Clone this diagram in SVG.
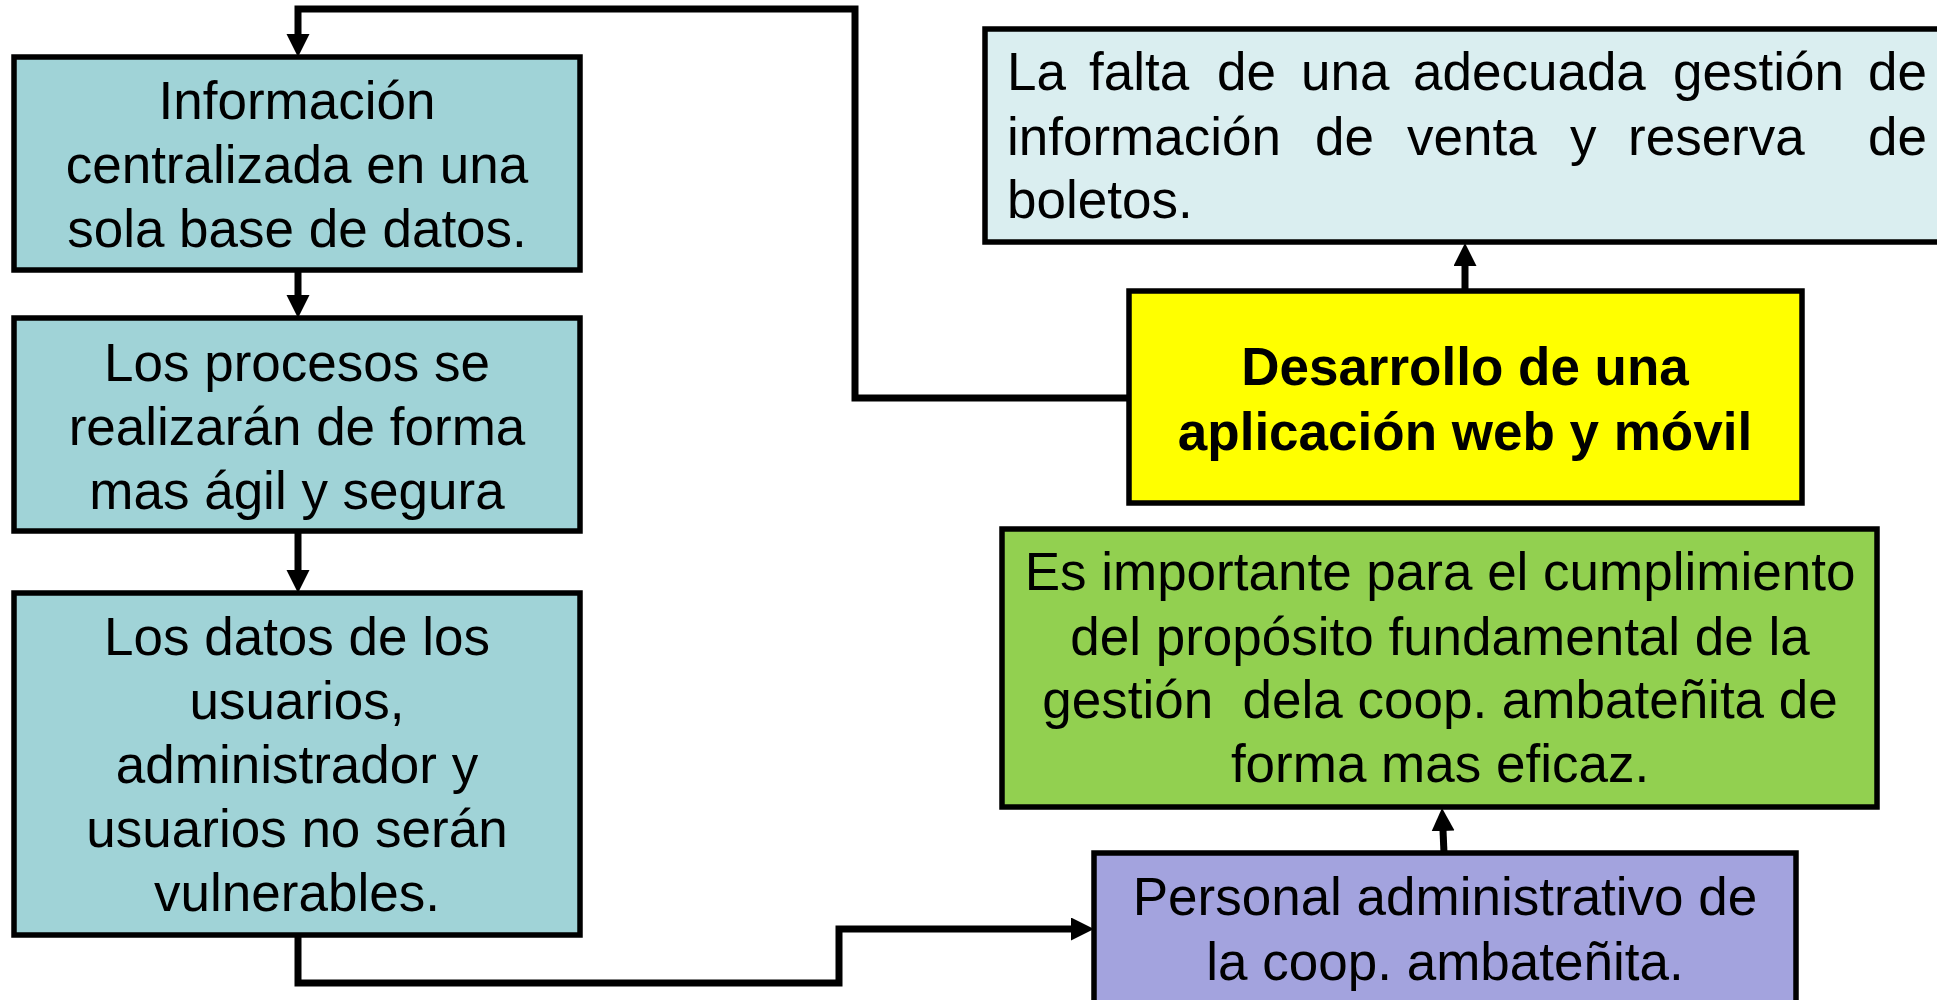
<svg xmlns="http://www.w3.org/2000/svg" width="1937" height="1000" viewBox="0 0 1937 1000">
<style>
.box{stroke:#000;stroke-width:5.5}
.teal{fill:#A0D3D7}
.lblue{fill:#DAEEF0}
.yellow{fill:#FFFF00}
.green{fill:#92D050}
.purple{fill:#A3A3DE}
text{font-family:"Liberation Sans",Arial,sans-serif;font-size:53px;fill:#000}
.c{text-anchor:middle}
.b{font-weight:bold}
.conn{fill:none;stroke:#000;stroke-width:7;stroke-linejoin:miter}
</style>
<defs>
<marker id="ah" markerUnits="userSpaceOnUse" markerWidth="24" markerHeight="24" refX="12" refY="11.5" orient="auto" viewBox="0 0 24 24">
<path d="M0,0 L23,11.5 L0,23 z" fill="#000"/>
</marker>
</defs>
<g id="connectors">
<path class="conn" d="M298,271 L298,307" marker-end="url(#ah)"/>
<path class="conn" d="M298,532 L298,582" marker-end="url(#ah)"/>
<path class="conn" d="M298,935 L298,983 L839,983 L839,929 L1083,929" marker-end="url(#ah)"/>
<path class="conn" d="M1128,398 L855,398 L855,9 L298,9 L298,46" marker-end="url(#ah)"/>
<path class="conn" d="M1465,290 L1465,254" marker-end="url(#ah)"/>
<path class="conn" d="M1444,853 L1442.5,819" marker-end="url(#ah)"/>
</g>
<g id="node-info">
<rect class="box teal" x="14" y="57" width="566" height="213"/>
<text class="c" x="297" y="119">Información</text>
<text class="c" x="297" y="183">centralizada en una</text>
<text class="c" x="297" y="247">sola base de datos.</text>
</g>
<g id="node-procesos">
<rect class="box teal" x="14" y="318" width="566" height="213"/>
<text class="c" x="297" y="381">Los procesos se</text>
<text class="c" x="297" y="445">realizarán de forma</text>
<text class="c" x="297" y="509">mas ágil y segura</text>
</g>
<g id="node-datos">
<rect class="box teal" x="14" y="593" width="566" height="342"/>
<text class="c" x="297" y="655">Los datos de los</text>
<text class="c" x="297" y="719">usuarios,</text>
<text class="c" x="297" y="783">administrador y</text>
<text class="c" x="297" y="847">usuarios no serán</text>
<text class="c" x="297" y="911">vulnerables.</text>
</g>
<g id="node-problema">
<rect class="box lblue" x="985" y="29" width="970" height="213"/>
<text y="90"><tspan x="1007">La</tspan><tspan x="1089">falta</tspan><tspan x="1217">de</tspan><tspan x="1301">una</tspan><tspan x="1413">adecuada</tspan><tspan x="1673">gestión</tspan><tspan x="1868">de</tspan></text>
<text y="155"><tspan x="1007">información</tspan><tspan x="1315">de</tspan><tspan x="1407">venta</tspan><tspan x="1570">y</tspan><tspan x="1628">reserva</tspan><tspan x="1868">de</tspan></text>
<text x="1007" y="218">boletos.</text>
</g>
<g id="node-desarrollo">
<rect class="box yellow" x="1129" y="291" width="673" height="212"/>
<text class="c b" x="1465" y="385">Desarrollo de una</text>
<text class="c b" x="1465" y="450">aplicación web y móvil</text>
</g>
<g id="node-importante">
<rect class="box green" x="1002" y="529" width="875" height="278"/>
<text class="c" x="1440" y="590">Es importante para el cumplimiento</text>
<text class="c" x="1440" y="655">del propósito fundamental de la</text>
<text class="c" x="1440" y="718" xml:space="preserve">gestión  dela coop. ambateñita de</text>
<text class="c" x="1440" y="782">forma mas eficaz.</text>
</g>
<g id="node-personal">
<rect class="box purple" x="1094" y="853" width="702" height="160"/>
<text class="c" x="1445" y="915">Personal administrativo de</text>
<text class="c" x="1445" y="980">la coop. ambateñita.</text>
</g>
</svg>
